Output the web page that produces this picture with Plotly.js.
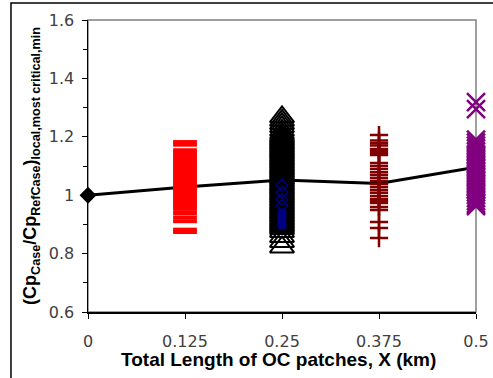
<!DOCTYPE html>
<html>
<head>
<meta charset="utf-8">
<script src="https://cdn.plot.ly/plotly-3.0.1.min.js"></script>
<style>html,body{margin:0;padding:0;background:#fff;}#chart{width:493px;height:378px;}</style>
</head>
<body>
<div id="chart"></div>
<script>
// X positions (km)
var xTickVals = [0, 0.125, 0.25, 0.375, 0.5];
var xTickText = ["0", "0.125", "0.25", "0.375", "0.5"];

// Reference/trend line
var trendX = [0, 0.125, 0.25, 0.375, 0.5];
var trendY = [1.0, 1.028, 1.052, 1.040, 1.096];

// Reference case point
var refX = [0];
var refY = [1.0];

// X = 0.125 km (red dashes)
var redY = [1.182, 1.173, 1.154, 1.146, 1.138, 1.130, 1.122, 1.114, 1.106, 1.098, 1.090, 1.082,
  1.074, 1.066, 1.058, 1.050, 1.042, 1.034, 1.026, 1.018, 1.010, 1.002, 0.994, 0.986, 0.978,
  0.970, 0.962, 0.953, 0.939, 0.924, 0.911, 0.882, 0.874];

// X = 0.25 km (black open triangles)
var triY = [1.268, 1.256, 1.245, 1.234, 1.222, 1.212, 1.205, 1.20, 1.195, 1.19, 1.185, 1.18, 1.175,
  1.17, 1.165, 1.16, 1.155, 1.15, 1.145, 1.14, 1.135, 1.13, 1.125, 1.12, 1.115, 1.11, 1.105, 1.10,
  1.095, 1.09, 1.085, 1.08, 1.075, 1.07, 1.065, 1.06, 1.055, 1.05, 1.045, 1.04, 1.035, 1.03, 1.025,
  1.02, 1.015, 1.01, 1.005, 1.00, 0.995, 0.99, 0.985, 0.98, 0.975, 0.97, 0.965, 0.96, 0.955, 0.95,
  0.945, 0.94, 0.935, 0.93, 0.925, 0.92, 0.915, 0.91, 0.905, 0.90, 0.895, 0.89, 0.885,
  0.875, 0.858, 0.841, 0.822];

// X = 0.25 km (navy markers)
var navyUpperY = [1.035, 1.01, 0.985, 0.965];
var navyLowerY = [0.94, 0.93, 0.92, 0.91, 0.90, 0.895];

// X = 0.375 km (dark red crosses)
var crossY = [1.206, 1.187, 1.178, 1.170, 1.158, 1.151, 1.144, 1.138, 1.110, 1.100, 1.090, 1.079,
  1.069, 1.059, 1.049, 1.038, 1.028, 1.018, 1.008, 0.997, 0.987, 0.980, 0.973, 0.960, 0.949,
  0.908, 0.888, 0.853];

// X = 0.5 km (purple x)
var purpleY = [1.319, 1.295, 1.19, 1.18, 1.17, 1.16, 1.15, 1.14, 1.13, 1.12, 1.11, 1.10, 1.09,
  1.08, 1.07, 1.06, 1.05, 1.04, 1.03, 1.02, 1.01, 1.00, 0.99, 0.98, 0.97, 0.963];

function fill(val, arr) { return arr.map(function () { return val; }); }

var traces = [
  {x: trendX, y: trendY, mode: 'lines', line: {color: '#000', width: 3}, cliponaxis: false, hoverinfo: 'skip'},
  {x: fill(0.125, redY), y: redY, mode: 'markers', cliponaxis: false,
   marker: {symbol: 'line-ew-open', size: 17, color: '#ff0000', line: {color: '#ff0000', width: 4}}},
  {x: fill(0.25, triY), y: triY, mode: 'markers', cliponaxis: false,
   marker: {symbol: 'triangle-up-open', size: 21, color: '#000', line: {color: '#000', width: 2}}},
  {x: fill(0.25, navyUpperY), y: navyUpperY, mode: 'markers', cliponaxis: false,
   marker: {symbol: 'diamond-open', size: 9, color: '#000080', line: {color: '#000080', width: 1.5}}},
  {x: fill(0.25, navyLowerY), y: navyLowerY, mode: 'markers', cliponaxis: false,
   marker: {symbol: 'circle', size: 9, color: '#000080', line: {width: 0}}},
  {x: fill(0.375, crossY), y: crossY, mode: 'markers', cliponaxis: false,
   marker: {symbol: 'cross-thin-open', size: 13, color: '#800000', line: {color: '#800000', width: 2.5}}},
  {x: fill(0.5, purpleY), y: purpleY, mode: 'markers', cliponaxis: false,
   marker: {symbol: 'x-thin-open', size: 18, color: '#800080', line: {color: '#800080', width: 2.5}}},
  {x: refX, y: refY, mode: 'markers', cliponaxis: false,
   marker: {symbol: 'diamond', size: 13, color: '#000', line: {width: 0}}}
];

var layout = {
  width: 493, height: 378,
  margin: {l: 88, r: 17, t: 20, b: 66, pad: 0},
  paper_bgcolor: '#fff', plot_bgcolor: '#fff',
  showlegend: false,
  xaxis: {
    range: [0, 0.5], tickvals: xTickVals, ticktext: xTickText,
    showline: true, linecolor: '#000', linewidth: 1.5,
    ticks: 'outside', ticklen: 5, tickcolor: '#000', tickwidth: 1,
    ticklabelstandoff: 9,
    showgrid: false, zeroline: false,
    tickfont: {family: 'DejaVu Sans', size: 16, color: '#404040'}
  },
  yaxis: {
    range: [0.6, 1.6], tick0: 0.6, dtick: 0.2,
    showline: true, linecolor: '#000', linewidth: 1.5,
    ticks: 'outside', ticklen: 5, tickcolor: '#000', tickwidth: 1,
    ticklabelstandoff: 4,
    minor: {dtick: 0.1, tick0: 0.6, ticks: 'outside', ticklen: 4, tickcolor: '#000', showgrid: false},
    showgrid: false, zeroline: false,
    tickfont: {family: 'DejaVu Sans', size: 16, color: '#404040'}
  },
  shapes: [
    {type: 'rect', xref: 'paper', yref: 'paper', x0: 0, x1: 1, y0: 0, y1: 1,
     line: {color: '#808080', width: 1.5}, layer: 'below'},
    {type: 'rect', xref: 'paper', yref: 'paper', x0: -0.1985, x1: 1.3, y0: -0.4, y1: 1.058,
     line: {color: '#000', width: 1.5}, layer: 'below'}
  ],
  annotations: [
    {text: '<b>Total Length of OC patches, X (km)</b>', xref: 'paper', yref: 'paper',
     x: 0.49, y: -0.164, xanchor: 'center', yanchor: 'middle', showarrow: false,
     font: {family: 'Liberation Sans', size: 19, color: '#000'}},
    {text: '<b>(Cp<sub>Case</sub>/Cp<sub>RefCase</sub>)<sub>local,most critical,min</sub></b>',
     xref: 'paper', yref: 'paper', x: -0.147, y: 0.5, xanchor: 'center', yanchor: 'middle',
     textangle: -90, showarrow: false,
     font: {family: 'Liberation Sans', size: 18, color: '#000'}}
  ]
};

Plotly.newPlot('chart', traces, layout, {displayModeBar: false, staticPlot: true});
</script>
</body>
</html>
